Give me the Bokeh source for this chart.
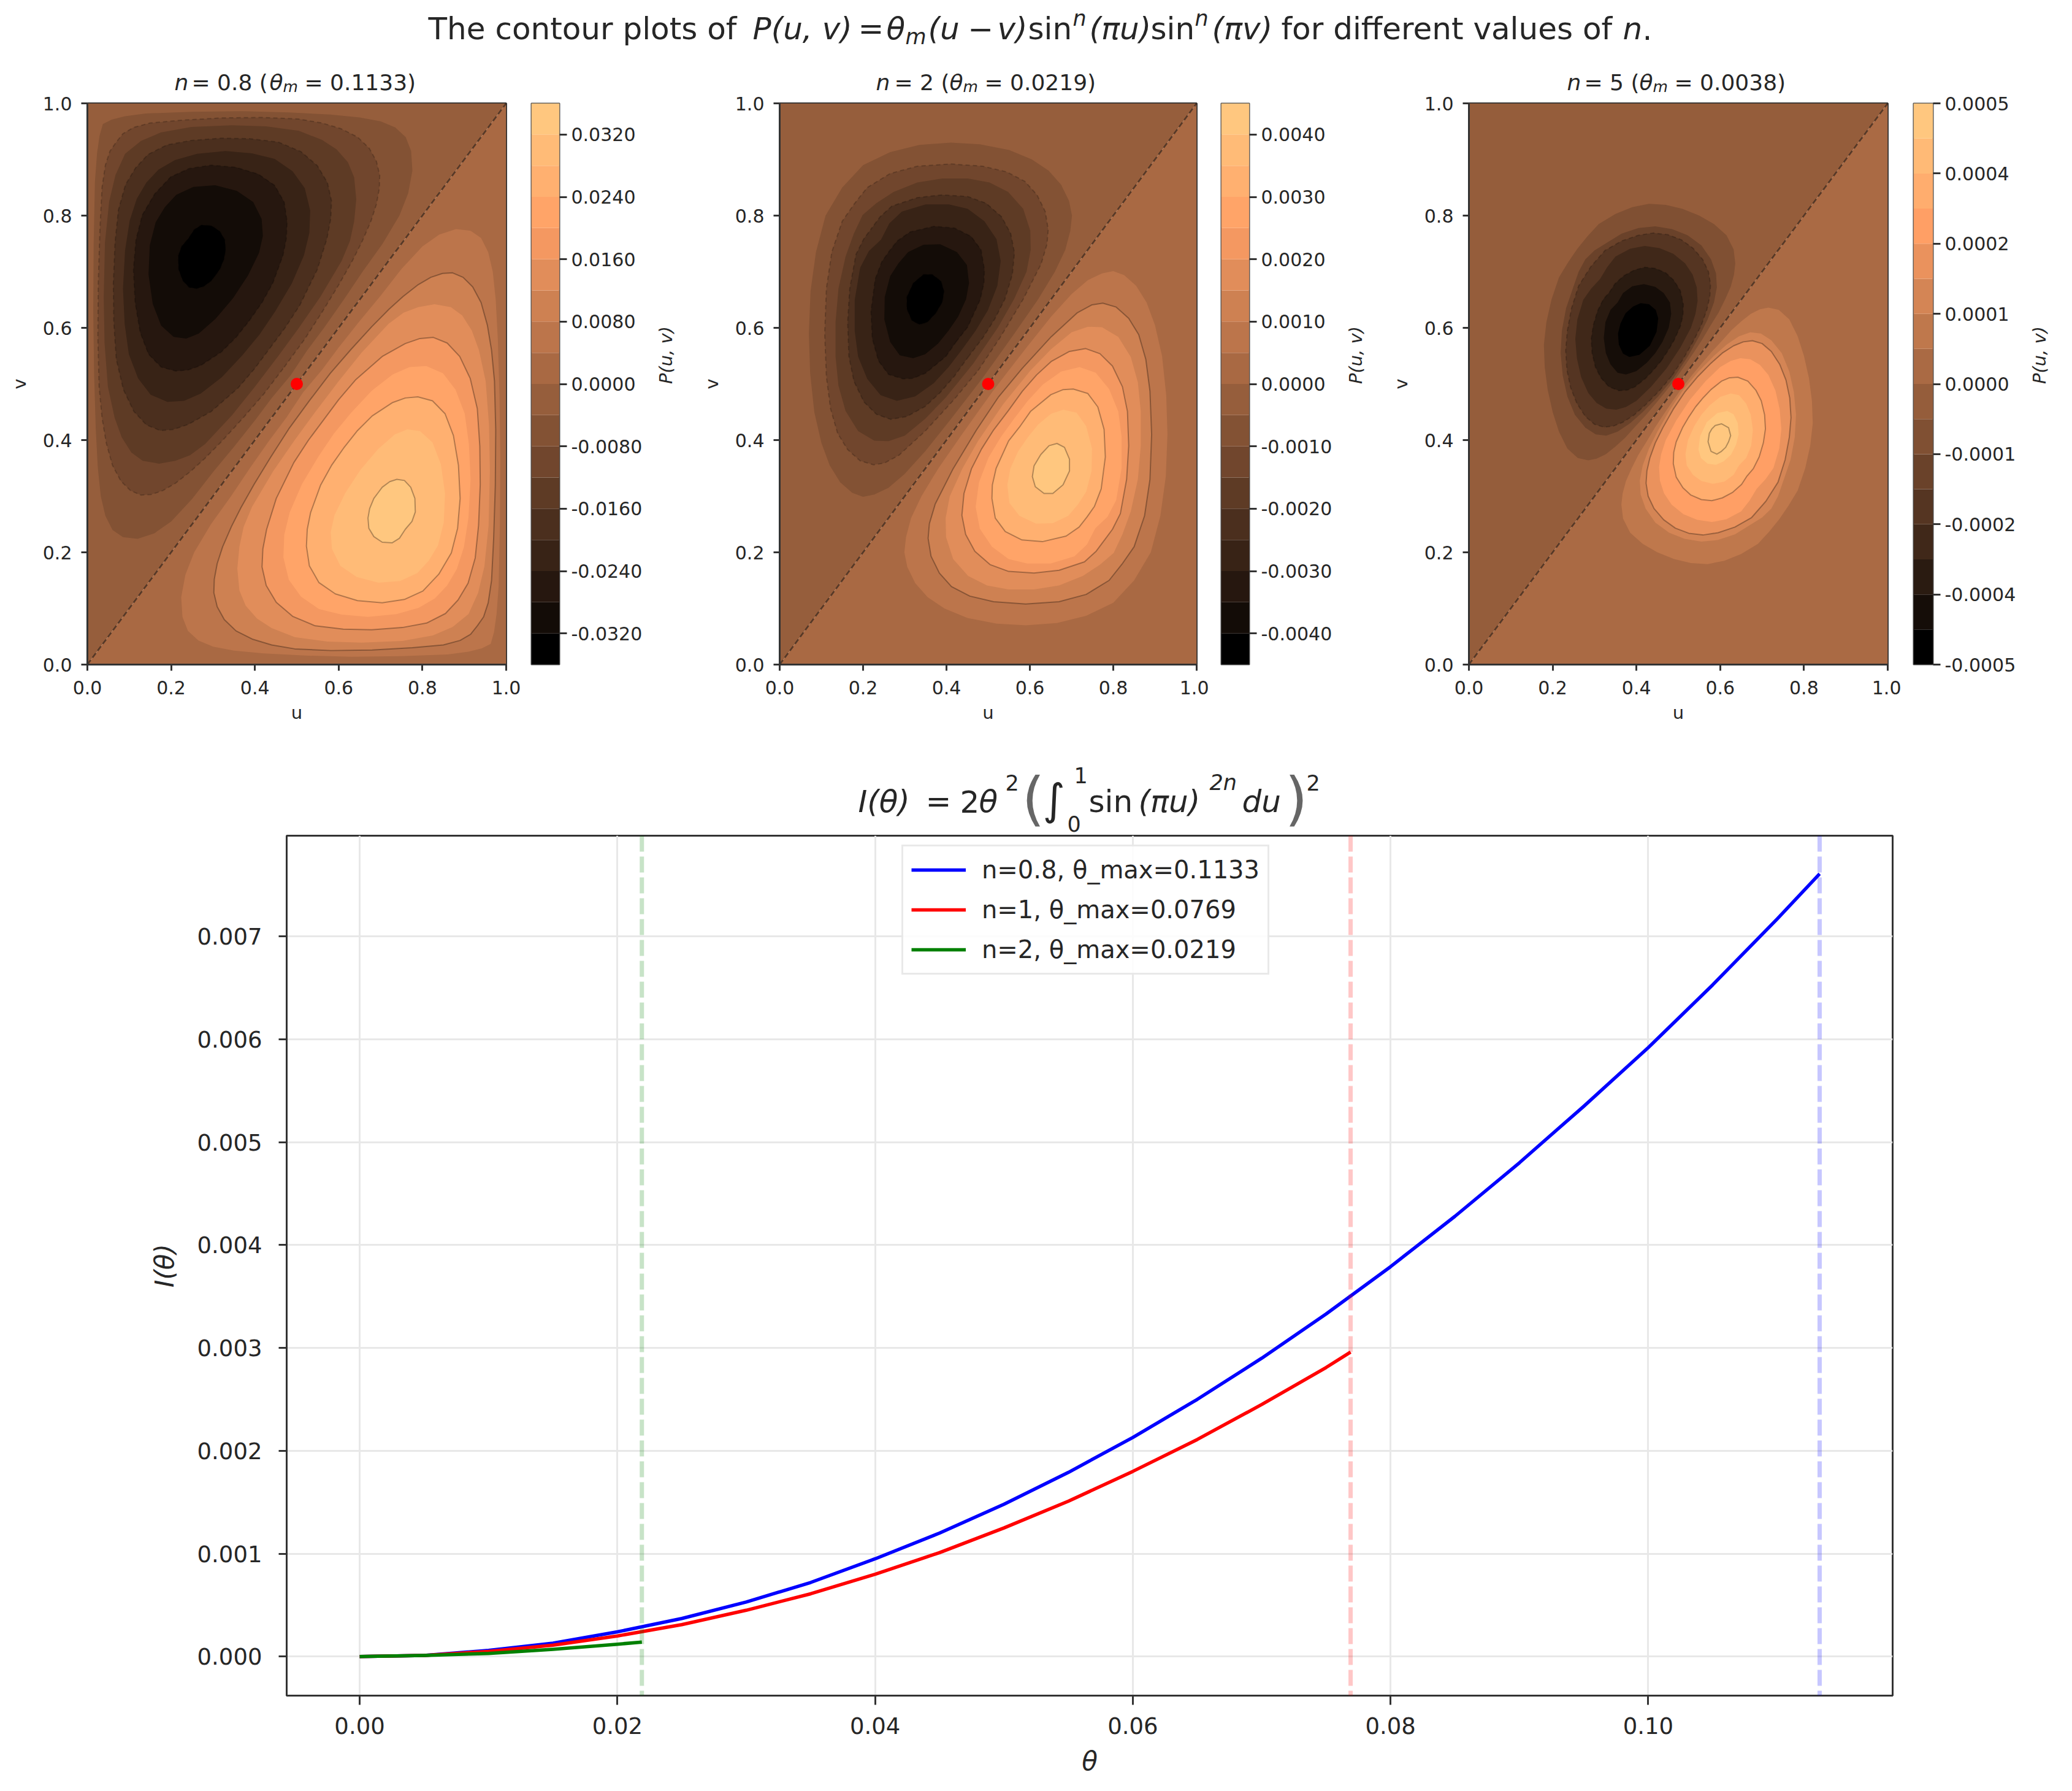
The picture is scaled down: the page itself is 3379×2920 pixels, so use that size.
import math
from bokeh.plotting import figure
from bokeh.layouts import column, row
from bokeh.models import Range1d, FixedTicker, Label, Span, Legend, LegendItem
from bokeh.embed import file_html
from bokeh.resources import INLINE

FONT = "DejaVu Sans"

# ---- contour outlines, as (u, v): one half of each
# closed level curve of the positive lobe, from the crossing of u+v=1 next to the
# diagonal round to the far crossing.  The other half is its mirror image in u+v=1,
# and the negative lobe is the mirror image in u=v, as the picture shows.
n08_004 = [(.515,.485),(.56,.525),(.60,.565),(.65,.612),(.70,.657),(.75,.705),(.80,.745),(.84,.766),(.88,.776),(.915,.773),(.94,.760),(.957,.735),(.968,.700),(.975,.65),(.980,.58),(.984,.48),(.986,.37),(.985,.25),(.982,.14),(.977,.09),(.971,.058),(.963,.037)]
n08_008 = [(.530,.470),(.58,.519),(.63,.562),(.679,.602),(.72,.633),(.754,.656),(.79,.677),(.82,.690),(.848,.697),(.872,.698),(.897,.690),(.92,.673),(.94,.645),(.955,.605),(.965,.56),(.972,.505),(.975,.418),(.974,.32),(.970,.224),(.965,.15),(.957,.11),(.946,.085),(.931,.069)]
n08_012 = [(.546,.452),(.60,.505),(.655,.556),(.719,.607),(.755,.627),(.79,.637),(.829,.642),(.868,.637),(.895,.622),(.918,.595),(.935,.56),(.951,.505),(.959,.427),(.961,.345),(.958,.248),(.948,.175),(.933,.128),(.910,.090)]
n08_016 = [(.564,.436),(.60,.472),(.64,.507),(.704,.549),(.759,.572),(.794,.581),(.826,.583),(.859,.573),(.889,.549),(.914,.510),(.931,.456),(.937,.389),(.938,.321),(.934,.248),(.926,.190),(.909,.145),(.885,.115)]
n08_020 = [(.587,.410),(.630,.449),(.679,.488),(.729,.517),(.769,.530),(.809,.532),(.849,.519),(.879,.490),(.901,.447),(.911,.393),(.915,.330),(.910,.262),(.899,.209),(.882,.170),(.859,.141)]
n08_024 = [(.612,.386),(.645,.417),(.680,.443),(.729,.467),(.759,.475),(.789,.477),(.824,.470),(.854,.447),(.874,.408),(.886,.355),(.890,.296),(.884,.243),(.869,.199),(.839,.161)]
n08_028 = [(.652,.347),(.694,.384),(.734,.410),(.764,.419),(.794,.416),(.824,.396),(.844,.357),(.854,.305),(.851,.253),(.837,.212),(.815,.185)]
n08_032 = [(.694,.306),(.704,.316),(.722,.326),(.739,.330),(.757,.328),(.772,.316),(.782,.296),(.783,.272),(.775,.255),(.759,.241)]

n2_0005 = [(.512,.488),(.545,.520),(.592,.565),(.651,.620),(.700,.660),(.739,.685),(.773,.697),(.800,.701),(.826,.694),(.855,.675),(.880,.645),(.900,.605),(.917,.55),(.927,.48),(.930,.41),(.926,.335),(.913,.265),(.89,.2),(.85,.15)]
n2_0010 = [(.524,.476),(.582,.528),(.651,.584),(.714,.627),(.749,.641),(.775,.644),(.807,.637),(.837,.617),(.861,.588),(.878,.544),(.888,.487),(.892,.410),(.888,.330),(.875,.265),(.850,.21),(.821,.179)]
n2_0015 = [(.536,.464),(.6015,.524),(.651,.562),(.700,.592),(.739,.602),(.773,.601),(.812,.584),(.842,.548),(.859,.503),(.866,.451),(.866,.390),(.859,.330),(.842,.273),(.822,.232),(.801,.199)]
n2_0020 = [(.548,.452),(.582,.487),(.616,.516),(.651,.540),(.695,.558),(.734,.563),(.768,.554),(.798,.532),(.822,.495),(.834,.451),(.837,.390),(.832,.330),(.817,.269),(.798,.241),(.778,.221)]
n2_0025 = [(.562,.438),(.595,.47),(.631,.499),(.675,.522),(.719,.530),(.758,.520),(.790,.491),(.812,.451),(.820,.406),(.820,.350),(.807,.293),(.786,.263),(.757,.243)]
n2_0030 = [(.575,.423),(.6015,.451),(.6505,.481),(.680,.490),(.704,.491),(.739,.483),(.763,.459),(.778,.419),(.781,.370),(.771,.313),(.755,.282),(.737,.263)]
n2_0035 = [(.595,.405),(.620,.428),(.651,.447),(.680,.454),(.712,.449),(.735,.425),(.749,.385),(.748,.345),(.735,.308),(.715,.285)]
n2_0040 = [(.626,.374),(.646,.390),(.665,.394),(.683,.387),(.695,.366),(.695,.345),(.680,.321)]

n5_1 = [(.508,.492),(.530,.513),(.554,.535),(.578,.556),(.603,.576),(.627,.596),(.651,.612),(.673,.625),(.695,.633),(.715,.636),(.74,.632),(.765,.615),(.785,.585),(.80,.55),(.812,.51),(.819,.47),(.821,.43),(.815,.39),(.803,.35),(.785,.31),(.763,.283),(.741,.259)]
n5_1b = [(.511,.489),(.548,.522),(.585,.55),(.615,.57),(.645,.585),(.672,.592),(.697,.590),(.722,.578),(.747,.555),(.765,.522),(.776,.485),(.781,.445),(.778,.405),(.768,.365),(.752,.33),(.738,.30),(.722,.278)]
n5_2 = [(.515,.485),(.545,.512),(.578,.537),(.605,.555),(.632,.568),(.655,.575),(.677,.577),(.70,.572),(.722,.558),(.742,.535),(.757,.507),(.766,.475),(.769,.44),(.765,.405),(.755,.365),(.738,.325),(.709,.291)]
n5_3 = [(.528,.472),(.565,.505),(.60,.530),(.625,.541),(.648,.546),(.672,.544),(.695,.534),(.715,.516),(.732,.488),(.742,.455),(.746,.42),(.741,.385),(.727,.35),(.708,.33),(.687,.313)]
n5_4 = [(.541,.459),(.56,.476),(.578,.490),(.603,.505),(.622,.511),(.642,.512),(.666,.505),(.685,.489),(.698,.47),(.706,.445),(.708,.42),(.703,.395),(.693,.37),(.679,.349),(.664,.336)]
n5_5 = [(.555,.445),(.575,.462),(.60,.477),(.625,.483),(.645,.48),(.662,.465),(.673,.445),(.678,.418),(.674,.39),(.662,.368),(.645,.355)]
n5_6 = [(.568,.432),(.593,.448),(.617,.452),(.632,.446),(.642,.43),(.644,.41),(.638,.392),(.626,.374)]
n5_7 = [(.580,.420),(.588,.426),(.603,.429),(.620,.422),(.625,.408),(.620,.397),(.613,.387)]

# filled level curves, ascending; the ones carrying a drawn line
p1_curves = [n08_004, n08_008, n08_012, n08_016, n08_020, n08_024, n08_028, n08_032]
p1_lines = [n08_008, n08_016, n08_024, n08_032]
p2_curves = [n2_0005, n2_0010, n2_0015, n2_0020, n2_0025, n2_0030, n2_0035, n2_0040]
p2_lines = [n2_0010, n2_0020, n2_0030, n2_0040]
p3_curves = [n5_1, n5_1b, n5_2, n5_3, n5_4, n5_5, n5_6]
p3_lines = [n5_2, n5_4, n5_7]

# colour bars
cb1_levels = [-.036,-.032,-.028,-.024,-.020,-.016,-.012,-.008,-.004,0,.004,.008,.012,.016,.020,.024,.028,.032,.036]
cb1_ticks = [-.032,-.024,-.016,-.008,0,.008,.016,.024,.032]
cb1_labels = ["-0.0320","-0.0240","-0.0160","-0.0080","0.0000","0.0080","0.0160","0.0240","0.0320"]
cb2_levels = [-.0045,-.004,-.0035,-.003,-.0025,-.002,-.0015,-.001,-.0005,0,.0005,.001,.0015,.002,.0025,.003,.0035,.004,.0045]
cb2_ticks = [-.004,-.003,-.002,-.001,0,.001,.002,.003,.004]
cb2_labels = ["-0.0040","-0.0030","-0.0020","-0.0010","0.0000","0.0010","0.0020","0.0030","0.0040"]
cb3_levels = [-.0005,-.0004375,-.000375,-.0003125,-.00025,-.0001875,-.000125,-.0000625,0,.0000625,.000125,.0001875,.00025,.0003125,.000375,.0004375,.0005]
cb3_ticks = [-.0005,-.000375,-.00025,-.000125,0,.000125,.00025,.000375,.0005]
cb3_labels = ["-0.0005","-0.0004","-0.0002","-0.0001","0.0000","0.0001","0.0002","0.0004","0.0005"]
uv_ticks = [0,.2,.4,.6,.8,1]

# lower chart
blue_theta = [0,.005,.01,.015,.02,.025,.03,.035,.04,.045,.05,.055,.06,.065,.07,.075,.08,.085,.09,.095,.10,.105,.11,.1133]
blue_I = [0,.00001,.00006,.00013,.00024,.00037,.00053,.00072,.00095,.00120,.00148,.00179,.00213,.00250,.00290,.00333,.00379,.00428,.00480,.00535,.00592,.00653,.00717,.00761]
red_theta = [0,.005,.01,.015,.02,.025,.03,.035,.04,.045,.05,.055,.06,.065,.07,.075,.0769]
red_I = [0,.00001,.00005,.00011,.00020,.00031,.00045,.00061,.00080,.00101,.00125,.00151,.00180,.00211,.00245,.00281,.00296]
green_theta = [0,.005,.01,.015,.02,.0219]
green_I = [0,.00001,.00003,.00007,.00012,.00014]
theta_max = [.1133,.0769,.0219]
legend_labels = ["n=0.8, θ_max=0.1133","n=1, θ_max=0.0769","n=2, θ_max=0.0219"]
theta_ticks = [0,.02,.04,.06,.08,.10]
I_ticks = [0,.001,.002,.003,.004,.005,.006,.007]


def copper(x):
    r, g, b = min(1.25 * x, 1), .7812 * x, .4975 * x
    return "#%02x%02x%02x" % (round(r * 255), round(g * 255), round(b * 255))


def loop(half):
    return list(half) + [(1 - v, 1 - u) for u, v in reversed(half)]


def label(p, s, x, y, size=29, style="normal", color="#262626"):
    p.add_layout(Label(x=x, y=y + .26 * size, text=s, text_font=FONT, text_font_size=f"{size}px", text_font_style=style,
                       text_align="left", text_baseline="alphabetic", text_color=color))


def style_axis(ax, size, tick, standoff):
    ax.major_label_text_font = FONT
    ax.major_label_text_font_size = f"{size}px"
    ax.major_label_text_color = "#262626"
    ax.major_tick_in = 0
    ax.major_tick_out = tick
    ax.minor_tick_in = 0
    ax.minor_tick_out = 0
    ax.major_tick_line_color = "#333333"
    ax.major_tick_line_width = 3
    ax.axis_line_color = "#333333"
    ax.axis_line_width = 3
    ax.major_label_standoff = standoff
    ax.axis_label_text_font = FONT
    ax.axis_label_text_font_style = "normal"
    ax.axis_label_text_color = "#262626"


TOP = 15
OVER = 25   # the title strips reach this far under the transparent top border of what follows


def panel(curves, lines, left, right, fw):
    p = figure(width=left + fw + right, height=TOP + 915 + 117, x_range=Range1d(0, 1), y_range=Range1d(0, 1),
               toolbar_location=None, output_backend="svg", min_border_left=left, min_border_right=right,
               min_border_top=TOP, min_border_bottom=117, border_fill_alpha=0)
    p.grid.visible = False
    p.outline_line_color = "#333333"
    p.outline_line_width = 3
    for ax, name, ts, ls in ((p.xaxis[0], "u", 16, 10), (p.yaxis[0], "v", 15, 18)):
        style_axis(ax, 30, 10, ts)
        ax.ticker = FixedTicker(ticks=uv_ticks)
        ax.major_label_overrides = {t: f"{t:.1f}" for t in uv_ticks}
        ax.axis_label = name
        ax.axis_label_text_font_size = "29px"
        ax.axis_label_standoff = ls
    n = 2 * (len(curves) + 1)
    mid = n // 2
    cols = lambda i: copper(i / (n - 1))
    p.patch([0, 1, 1], [0, 0, 1], color=cols(mid), line_width=0)
    p.patch([0, 0, 1], [0, 1, 1], color=cols(mid - 1), line_width=0)
    for k, c in enumerate(curves, 1):
        o = loop(c)
        p.patch([a for a, b in o], [b for a, b in o], color=cols(mid + k), line_width=0)
        p.patch([b for a, b in o], [a for a, b in o], color=cols(mid - 1 - k), line_width=0)
    for c in lines:
        o = loop(c)
        o = o + o[:1]
        p.line([a for a, b in o], [b for a, b in o], line_color="#000000", line_alpha=.3, line_width=2, line_join="round")
        p.line([b for a, b in o], [a for a, b in o], line_color="#000000", line_alpha=.2, line_width=2, line_dash="7 5")
    p.line([0, 1], [0, 1], line_color="#000000", line_alpha=.5, line_width=2.5, line_dash="9 5")
    p.scatter([.5], [.5], size=20, color="#ff0000", line_width=0)
    return p


def colorbar(levels, ticks, labels, left, right):
    n = len(levels) - 1
    p = figure(width=left + 46 + right, height=TOP + 915 + 117, x_range=Range1d(0, 1), y_range=Range1d(levels[0], levels[-1]),
               toolbar_location=None, output_backend="svg", y_axis_location="right", min_border_left=left,
               min_border_right=right, min_border_top=TOP, min_border_bottom=117, border_fill_alpha=0)
    p.grid.visible = False
    p.xaxis.visible = False
    p.outline_line_color = "#4d4d4d"
    p.outline_line_width = 2
    ax = p.yaxis[0]
    style_axis(ax, 30, 12, 7)
    ax.axis_line_color = None
    ax.ticker = FixedTicker(ticks=ticks)
    ax.major_label_overrides = dict(zip(ticks, labels))
    ax.axis_label = "P(u, v)"
    ax.axis_label_text_font_size = "29px"
    ax.axis_label_text_font_style = "italic"
    ax.axis_label_standoff = 36
    ax.axis_label_orientation = math.pi / 2
    ax.axis_label_text_align = "center"
    p.quad(left=0, right=1, bottom=levels[:-1], top=levels[1:], color=[copper(i / (n - 1)) for i in range(n)], line_width=0)
    return p


p1 = panel(p1_curves, p1_lines, 142, 25, 683)
c1 = colorbar(cb1_levels, cb1_ticks, cb1_labels, 16, 228)
p2 = panel(p2_curves, p2_lines, 131, 20, 680)
c2 = colorbar(cb2_levels, cb2_ticks, cb2_labels, 20, 223)
p3 = panel(p3_curves, p3_lines, 135, 22, 683)
c3 = colorbar(cb3_levels, cb3_ticks, cb3_labels, 20, 197)


def strip(h, pieces):
    W = 3379
    s = figure(width=W, height=h, x_range=Range1d(0, W), y_range=Range1d(0, h), toolbar_location=None,
               output_backend="svg", x_axis_type=None, y_axis_type=None, min_border=0, outline_line_color=None)
    s.grid.visible = False
    for pc in pieces:
        t, px, up, sz, st = pc[:5]
        label(s, t, px, h - up, sz, st, pc[5] if len(pc) > 5 else "#262626")
    return s


def ptitle(xs, s1, s2):
    return [("n", xs[0], 143, 36, "italic"), (s1, xs[1], 143, 36, "normal"), ("θ", xs[2], 143, 36, "italic"),
            ("m", xs[3], 147, 25, "italic"), (s2, xs[4], 143, 36, "normal")]


head = strip(168 - TOP + OVER, [("The contour plots of", 698, 59, 50, "normal"), ("P(u, v)", 1227, 59, 50, "italic"), ("=", 1399, 59, 50, "normal"),
                   ("θ", 1445, 59, 50, "italic"), ("m", 1476, 69, 35, "italic"), ("(u", 1513, 59, 50, "italic"),
                   ("−", 1578, 59, 50, "normal"), ("v)", 1626, 59, 50, "italic"), ("sin", 1676, 59, 50, "normal"),
                   ("n", 1749, 39, 35, "italic"), ("(πu)", 1776, 59, 50, "italic"), ("sin", 1876, 59, 50, "normal"),
                   ("n", 1948, 39, 35, "italic"), ("(πv)", 1976, 59, 50, "italic"), ("for different values of", 2089, 59, 50, "normal"),
                   ("n", 2646, 59, 50, "italic"), (".", 2678, 59, 50, "normal")]
            + ptitle((284, 312, 439, 461, 496), "= 0.8 (", "= 0.1133)")
            + ptitle((1428, 1458, 1548, 1570, 1605), "= 2 (", "= 0.0219)")
            + ptitle((2555, 2583, 2673, 2695, 2730), "= 5 (", "= 0.0038)"))

Y_S = 1200
G = "#262626"
mid_title = strip(160 + OVER, [(t, px, py - Y_S, sz, st, col) for t, px, py, sz, st, col in [
    ("I(θ)", 1399, 1319, 50, "italic", G), ("=", 1509, 1319, 50, "normal", G), ("2", 1565, 1319, 50, "normal", G),
    ("θ", 1596, 1319, 50, "italic", G), ("2", 1639, 1285, 35, "normal", G), ("(", 1666, 1326, 95, "normal", "#666666"),
    ("∫", 1700, 1322, 70, "normal", G), ("1", 1751, 1273, 35, "normal", G), ("0", 1740, 1352, 35, "normal", G),
    ("sin", 1775, 1319, 50, "normal", G), ("(πu)", 1856, 1319, 50, "italic", G), ("2n", 1972, 1285, 35, "italic", G),
    ("du", 2025, 1319, 50, "italic", G), (")", 2095, 1326, 95, "normal", "#666666"), ("2", 2130, 1285, 35, "normal", G)]])

# lower chart
X0, X1, Y0, Y1 = -.005665, .118965, -.00038, .00798
b = figure(width=3379, height=1540, x_range=Range1d(X0, X1), y_range=Range1d(Y0, Y1), toolbar_location=None,
           output_backend="svg", min_border_left=467, min_border_right=293, min_border_top=2, min_border_bottom=136,
           border_fill_alpha=0)
b.outline_line_color = "#333333"
b.outline_line_width = 3
style_axis(b.xaxis[0], 37, 15, 20)
style_axis(b.yaxis[0], 37, 13, 27)
b.xaxis[0].ticker = FixedTicker(ticks=theta_ticks)
b.yaxis[0].ticker = FixedTicker(ticks=I_ticks)
b.xaxis[0].major_label_overrides = {t: f"{t:.2f}" for t in theta_ticks}
b.yaxis[0].major_label_overrides = {t: f"{t:.3f}" for t in I_ticks}
b.xaxis[0].axis_label = "θ"
b.yaxis[0].axis_label = "I(θ)"
for ax in b.axis:
    ax.axis_label_text_font_size = "42px"
    ax.axis_label_text_font_style = "italic"
b.xaxis[0].axis_label_standoff = 17
b.yaxis[0].axis_label_standoff = 26
b.grid.grid_line_color = "#e8e8e8"
b.grid.grid_line_width = 3
for t, col in zip(theta_max, ("#0000ff", "#ff0000", "#008000")):
    b.add_layout(Span(location=t, dimension="height", line_color=col, line_alpha=.22, line_width=7, line_dash="26 8"))
r1 = b.line(blue_theta, blue_I, line_color="#0000ff", line_width=5.5, line_join="round")
r2 = b.line(red_theta, red_I, line_color="#ff0000", line_width=5.5, line_join="round")
r3 = b.line(green_theta, green_I, line_color="#008000", line_width=5.5, line_join="round")
leg = Legend(items=[LegendItem(label=s, renderers=[r]) for s, r in zip(legend_labels, (r1, r2, r3))], location=(1003, 1175),
             label_text_font=FONT, label_text_font_size="40px", label_text_color="#262626", glyph_width=89, glyph_height=50,
             label_standoff=26, spacing=15, padding=13, margin=0, border_line_color="#d4d4d4", border_line_width=3,
             background_fill_alpha=.85)
b.add_layout(leg, "center")

page = column(row(head), row(p1, c1, p2, c2, p3, c3, margin=(-OVER, 0, 0, 0)), row(mid_title), row(b, margin=(-OVER, 0, 0, 0)))
open("out.html", "w").write(file_html(page, INLINE))
